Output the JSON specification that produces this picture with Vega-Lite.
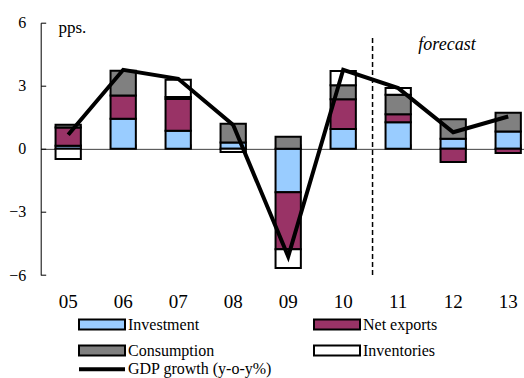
{
  "$schema": "https://vega.github.io/schema/vega-lite/v6.json",
  "width": 483.3,
  "height": 252.3,
  "autosize": {"type": "none"},
  "padding": {"left": 40.7, "top": 22.7, "right": 0, "bottom": 103},
  "background": "white",
  "config": {
    "view": {"stroke": null},
    "font": "Liberation Serif",
    "axis": {"labelFont": "Liberation Serif", "titleFont": "Liberation Serif", "labelColor": "black", "titleColor": "black"},
    "legend": {"labelFont": "Liberation Serif", "labelColor": "black"}
  },
  "datasets": {
    "contrib": [
      {"year": "05", "component": "Investment", "ord": 1, "value": 0.15},
      {"year": "05", "component": "Net exports", "ord": 2, "value": 0.86},
      {"year": "05", "component": "Consumption", "ord": 3, "value": 0.14},
      {"year": "05", "component": "Inventories", "ord": 4, "value": -0.48},
      {"year": "06", "component": "Investment", "ord": 1, "value": 1.43},
      {"year": "06", "component": "Net exports", "ord": 2, "value": 1.11},
      {"year": "06", "component": "Consumption", "ord": 3, "value": 1.17},
      {"year": "07", "component": "Investment", "ord": 1, "value": 0.86},
      {"year": "07", "component": "Net exports", "ord": 2, "value": 1.51},
      {"year": "07", "component": "Consumption", "ord": 3, "value": 0.1},
      {"year": "07", "component": "Inventories", "ord": 4, "value": 0.82},
      {"year": "08", "component": "Investment", "ord": 1, "value": 0.3},
      {"year": "08", "component": "Consumption", "ord": 3, "value": 0.89},
      {"year": "08", "component": "Inventories", "ord": 4, "value": -0.15},
      {"year": "09", "component": "Investment", "ord": 1, "value": -2.06},
      {"year": "09", "component": "Net exports", "ord": 2, "value": -2.71},
      {"year": "09", "component": "Consumption", "ord": 3, "value": 0.58},
      {"year": "09", "component": "Inventories", "ord": 4, "value": -0.9},
      {"year": "10", "component": "Investment", "ord": 1, "value": 0.95},
      {"year": "10", "component": "Net exports", "ord": 2, "value": 1.41},
      {"year": "10", "component": "Consumption", "ord": 3, "value": 0.67},
      {"year": "10", "component": "Inventories", "ord": 4, "value": 0.67},
      {"year": "11", "component": "Investment", "ord": 1, "value": 1.27},
      {"year": "11", "component": "Net exports", "ord": 2, "value": 0.38},
      {"year": "11", "component": "Consumption", "ord": 3, "value": 0.92},
      {"year": "11", "component": "Inventories", "ord": 4, "value": 0.32},
      {"year": "12", "component": "Investment", "ord": 1, "value": 0.48},
      {"year": "12", "component": "Net exports", "ord": 2, "value": -0.63},
      {"year": "12", "component": "Consumption", "ord": 3, "value": 0.93},
      {"year": "13", "component": "Investment", "ord": 1, "value": 0.82},
      {"year": "13", "component": "Net exports", "ord": 2, "value": -0.2},
      {"year": "13", "component": "Consumption", "ord": 3, "value": 0.9}
    ],
    "gdp": [
      {"year": "05", "series": "GDP growth (y-o-y%)", "gdp": 0.67},
      {"year": "06", "series": "GDP growth (y-o-y%)", "gdp": 3.76},
      {"year": "07", "series": "GDP growth (y-o-y%)", "gdp": 3.33},
      {"year": "08", "series": "GDP growth (y-o-y%)", "gdp": 1.14},
      {"year": "09", "series": "GDP growth (y-o-y%)", "gdp": -5.12},
      {"year": "10", "series": "GDP growth (y-o-y%)", "gdp": 3.76},
      {"year": "11", "series": "GDP growth (y-o-y%)", "gdp": 2.89},
      {"year": "12", "series": "GDP growth (y-o-y%)", "gdp": 0.79},
      {"year": "13", "series": "GDP growth (y-o-y%)", "gdp": 1.54}
    ]
  },
  "resolve": {"axis": {"x": "independent"}},
  "layer": [
    {
      "data": {"name": "contrib"},
      "mark": {"type": "bar", "stroke": "black", "strokeWidth": 2},
      "encoding": {
        "x": {
          "field": "year", "type": "nominal", "sort": null,
          "scale": {"range": [0, 495], "paddingInner": 0.54, "paddingOuter": 0.27},
          "axis": {"orient": "bottom", "domain": false, "ticks": false, "labelAngle": 0, "labelFontSize": 19, "labelPadding": 17, "title": null}
        },
        "y": {
          "field": "value", "type": "quantitative", "stack": "zero",
          "scale": {"domain": [-6, 6], "nice": false},
          "axis": {
            "values": [-6, -3, 0, 3, 6], "grid": false, "domainColor": "black", "domainWidth": 1,
            "tickColor": "black", "tickSize": -5, "labelFontSize": 16, "labelPadding": 20,
            "title": "pps.", "titleAngle": 0, "titleAlign": "left", "titleBaseline": "middle",
            "titleX": 17.3, "titleY": 4.3, "titleFontSize": 17, "titleFontWeight": "normal"
          }
        },
        "fill": {
          "field": "component", "type": "nominal",
          "scale": {"domain": ["Investment", "Net exports", "Consumption", "Inventories"], "range": ["#99CCFF", "#993366", "#808080", "#FFFFFF"]},
          "legend": {
            "orient": "none", "direction": "horizontal", "legendX": 53.3, "legendY": 293.8, "columns": 2, "title": null,
            "symbolType": "M-4.6,-1H4.6V1H-4.6Z", "symbolSize": 100, "symbolStrokeColor": "black", "symbolStrokeWidth": 2,
            "symbolOpacity": 1, "labelFontSize": 16, "labelOffset": 18, "columnPadding": 95, "rowPadding": 8
          }
        },
        "order": {"field": "ord", "type": "quantitative"}
      }
    },
    {
      "data": {"name": "gdp"},
      "mark": {"type": "line", "strokeWidth": 4},
      "encoding": {
        "x": {
          "field": "year", "type": "nominal", "sort": null,
          "axis": {"orient": "top", "offset": -126.15, "labels": false, "domain": true, "domainColor": "#404040", "domainWidth": 1, "ticks": true, "tickBand": "extent", "tickSize": 5, "tickColor": "#404040", "title": null}
        },
        "y": {"field": "gdp", "type": "quantitative"},
        "stroke": {
          "field": "series", "type": "nominal",
          "scale": {"domain": ["GDP growth (y-o-y%)"], "range": ["black"]},
          "legend": {
            "orient": "none", "legendX": 53.3, "legendY": 338.6, "title": null,
            "symbolType": "M-4.6,0H4.6", "symbolSize": 100, "symbolStrokeWidth": 4, "symbolStrokeColor": "black",
            "labelFontSize": 16, "labelOffset": 18
          }
        }
      }
    },
    {
      "data": {"values": [{}]},
      "mark": {"type": "rule", "strokeDash": [5, 3], "strokeWidth": 1.5, "color": "black"},
      "encoding": {
        "x": {"datum": "10", "type": "nominal", "bandPosition": 1.66, "axis": null},
        "y": {"datum": -6, "type": "quantitative"},
        "y2": {"datum": 5.35}
      }
    },
    {
      "data": {"values": [{}]},
      "mark": {"type": "text", "text": "forecast", "font": "Liberation Serif", "fontStyle": "italic", "fontSize": 18, "align": "center", "baseline": "middle", "color": "black"},
      "encoding": {
        "x": {"datum": "12", "type": "nominal", "bandPosition": 0.255, "axis": null},
        "y": {"datum": 4.95, "type": "quantitative"}
      }
    }
  ]
}
